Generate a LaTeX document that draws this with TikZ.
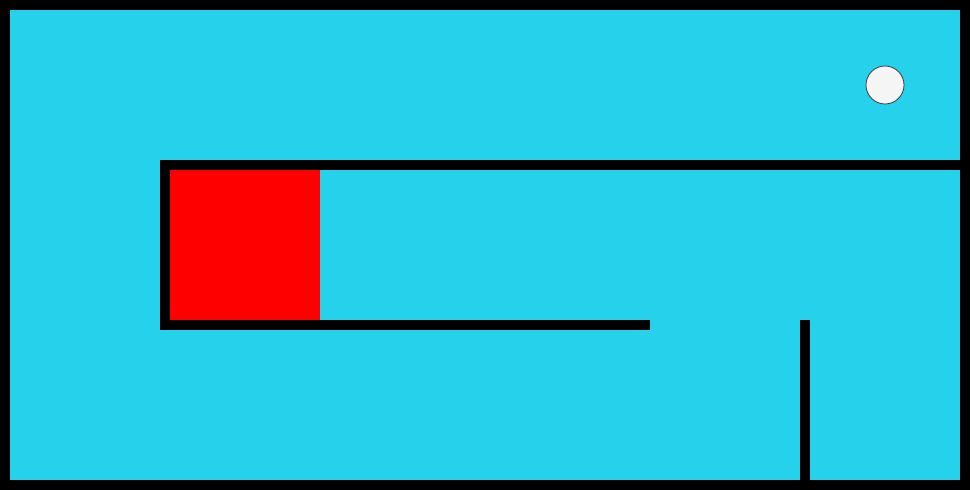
\documentclass[tikz,border=0pt]{standalone}
\definecolor{sea}{RGB}{38,209,236}
\definecolor{ballc}{RGB}{245,245,245}
\definecolor{ballrim}{RGB}{60,60,60}
\begin{document}
\begin{tikzpicture}[x=1pt,y=-1pt,wall/.style={fill=black}]
\useasboundingbox (0,0) rectangle (970,490);
% border
\fill[black] (0,0) rectangle (970,490);
\fill[sea] (10,10) rectangle (960,480);
% walls
\fill[wall] (160,160) rectangle (970,170);
\fill[wall] (160,160) rectangle (170,330);
\fill[wall] (160,320) rectangle (650,330);
\fill[wall] (800,320) rectangle (810,490);
% red block
\fill[red] (170,170) rectangle (320,320);
% ball
\draw[ballrim, fill=ballc, line width=0.8pt] (885,85) circle (19);
\end{tikzpicture}
\end{document}
